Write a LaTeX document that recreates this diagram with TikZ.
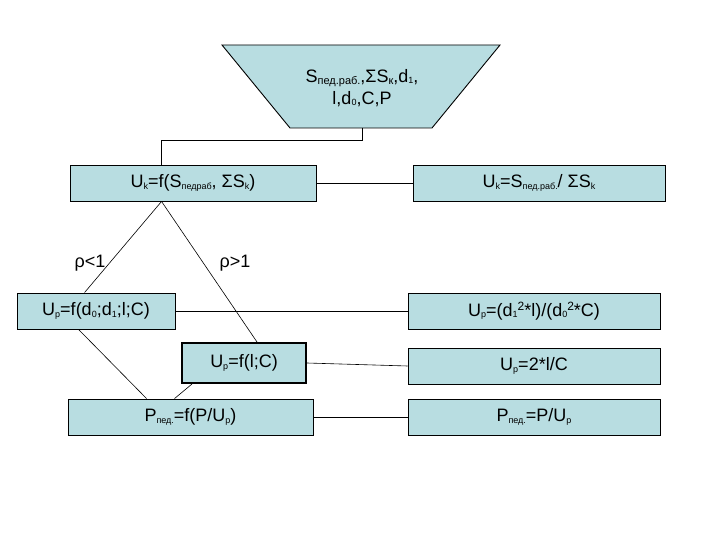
\documentclass[tikz,border=0pt]{standalone}
\usepackage{fontspec}
\setmainfont{Liberation Sans}
\definecolor{boxfill}{RGB}{184,221,225}
\newcommand{\sbs}[1]{\raisebox{-1.5pt}{\fontsize{9}{9}\selectfont #1}}
\newcommand{\sbl}[1]{\raisebox{-2.5pt}{\fontsize{11}{11}\selectfont #1}}
\newcommand{\sps}[1]{\raisebox{6pt}{\fontsize{12}{12}\selectfont #1}}
\begin{document}
\begin{tikzpicture}[x=1pt,y=-1pt,
  box/.style={draw, fill=boxfill, line width=0.9pt, inner sep=0pt, font=\fontsize{18}{20}\selectfont},
  thickbox/.style={box, line width=2pt},
  link/.style={line width=0.6pt},
  lbl/.style={font=\fontsize{18}{20}\selectfont, inner sep=0pt}]
\useasboundingbox (0,0) rectangle (720,540);
\fill[white] (0,0) rectangle (720,540);
% top trapezoid
\filldraw[fill=boxfill, line width=0.9pt] (222,45) -- (500,45) -- (432,128) -- (290,128) -- cycle;
\coordinate (tb) at (362,128);
\node[font=\fontsize{18}{22}\selectfont, align=center, inner sep=0pt] (top) at (362,88)
  {S\sbl{пед.раб.},ΣS\sbl{к},d\sbs{1},\\l,d\sbs{0},C,P};
% boxes
\node[box, minimum width=246pt, minimum height=36pt] (uk1) at (193,183) {U\sbs{k}=f(S\sbs{педраб}, ΣS\sbs{k})};
\node[box, minimum width=252pt, minimum height=36pt] (uk2) at (539,183) {U\sbs{k}=S\sbs{пед.раб.}/ ΣS\sbs{k}};
\node[box, minimum width=158pt, minimum height=36pt] (up1) at (96,311) {U\sbs{р}=f(d\sbs{0};d\sbs{1};l;C)};
\node[box, minimum width=252pt, minimum height=36pt] (up2) at (534,311) {U\sbs{р}=(d\sbs{1}\sps{2}*l)/(d\sbs{0}\sps{2}*C)};
\node[thickbox, minimum width=124pt, minimum height=40pt] (up3) at (244,363) {U\sbs{р}=f(l;C)};
\node[box, minimum width=252pt, minimum height=36pt] (up4) at (534,366) {U\sbs{р}=2*l/C};
\node[box, minimum width=245pt, minimum height=36pt] (pp1) at (190.5,417) {P\sbs{пед.}=f(P/U\sbs{р})};
\node[box, minimum width=252pt, minimum height=36pt] (pp2) at (534,417) {P\sbs{пед.}=P/U\sbs{р}};
% labels
\node[lbl] (l1) at (90,263) {ρ<1};
\node[lbl] (l2) at (235,263) {ρ>1};
% connectors
\draw[link] (tb) -- ++(0,12) -| ([xshift=92pt]uk1.north west);
\draw[link] (uk1.east) -- (uk2.west);
\draw[link] ([xshift=92pt]uk1.south west) -- ([xshift=68pt]up1.north west);
\draw[link] ([xshift=92pt]uk1.south west) -- ([xshift=76pt]up3.north west);
\draw[link] (up1.east) -- (up2.west);
\draw[link] (up3.east) -- (up4.west);
\draw[link] ([xshift=62pt]up1.south west) -- ([xshift=79pt]pp1.north west);
\draw[link] ([xshift=11pt]up3.south west) -- ([xshift=107pt]pp1.north west);
\draw[link] (pp1.east) -- (pp2.west);
\end{tikzpicture}
\end{document}
